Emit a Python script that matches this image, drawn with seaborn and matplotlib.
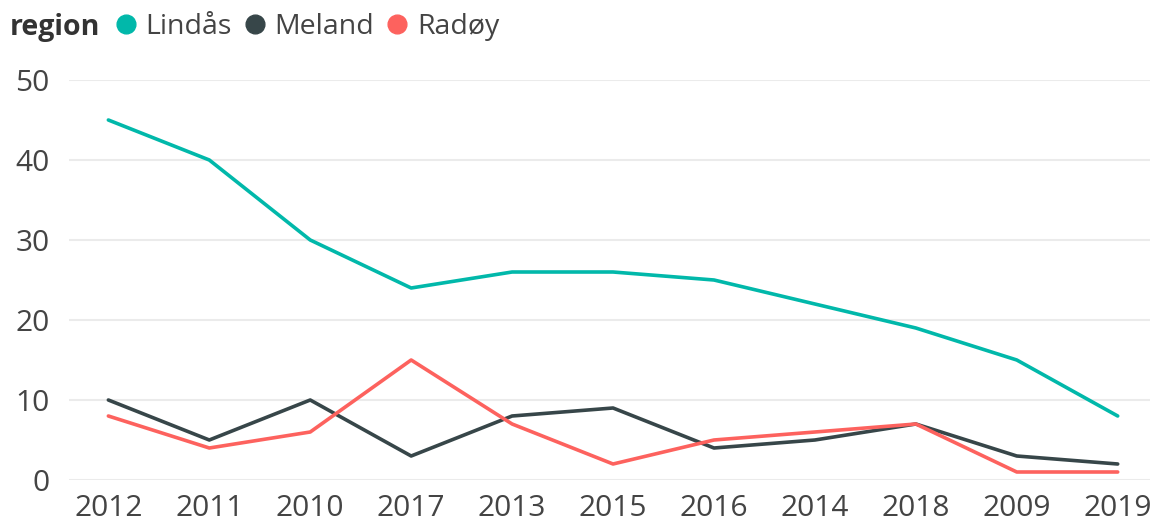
import pandas as pd
import seaborn as sns
import matplotlib.pyplot as plt
from matplotlib.lines import Line2D

# categories in the order shown on the x axis
years = ["2012", "2011", "2010", "2017", "2013", "2015", "2016", "2014", "2018", "2009", "2019"]
regions = ["Lindås", "Meland", "Radøy"]

lindas = [45, 40, 30, 24, 26, 26, 25, 22, 19, 15, 8]
meland = [10, 5, 10, 3, 8, 9, 4, 5, 7, 3, 2]
radoy = [8, 4, 6, 15, 7, 2, 5, 6, 7, 1, 1]

colors = ["#01B8AA", "#374649", "#FD625E"]

df = pd.DataFrame({
    "year": years * 3,
    "region": [r for r in regions for _ in years],
    "value": lindas + meland + radoy,
})

sns.set_style("white")
plt.rcParams["font.family"] = ["Open Sans", "DejaVu Sans"]

fig = plt.figure(figsize=(11.5, 5.25), dpi=100)
ax = fig.add_axes([69 / 1150, 45 / 525, 1 - 69 / 1150, 400 / 525])

sns.lineplot(
    data=df, x="year", y="value", hue="region", palette=colors,
    sort=False, linewidth=2.6, ax=ax, legend=False,
)

ax.set_xlim(-0.39, 10.32)
ax.set_ylim(0, 50)
ax.set_yticks([0, 10, 20, 30, 40, 50])
ax.grid(axis="y", color="#EBEBEB", linewidth=1.5)
ax.set_axisbelow(True)
for s in ax.spines.values():
    s.set_visible(False)
for ln in ax.get_lines():
    ln.set_clip_on(False)
ax.set_xlabel("")
ax.set_ylabel("")
ax.tick_params(axis="both", length=0, labelsize=21.5, labelcolor="#444444")
ax.tick_params(axis="y", pad=14)
ax.tick_params(axis="x", pad=10)

# legend in Power BI style: bold title followed by dot markers
fig.text(10 / 1150, 1 - 27 / 525, "region", fontsize=20.5, fontweight="bold",
         color="#333333", va="center", ha="left")
handles = [Line2D([], [], linestyle="none", marker="o", markersize=13.5, color=c) for c in colors]
leg = fig.legend(
    handles, regions, ncol=3, loc="center left", bbox_to_anchor=(117 / 1150, 1 - 27 / 525),
    frameon=False, fontsize=20.5, handlelength=0.6, handletextpad=0.4,
    columnspacing=0.5, borderaxespad=0, borderpad=0,
)
for t in leg.get_texts():
    t.set_color("#444444")

fig.savefig("out.png", dpi=100)
